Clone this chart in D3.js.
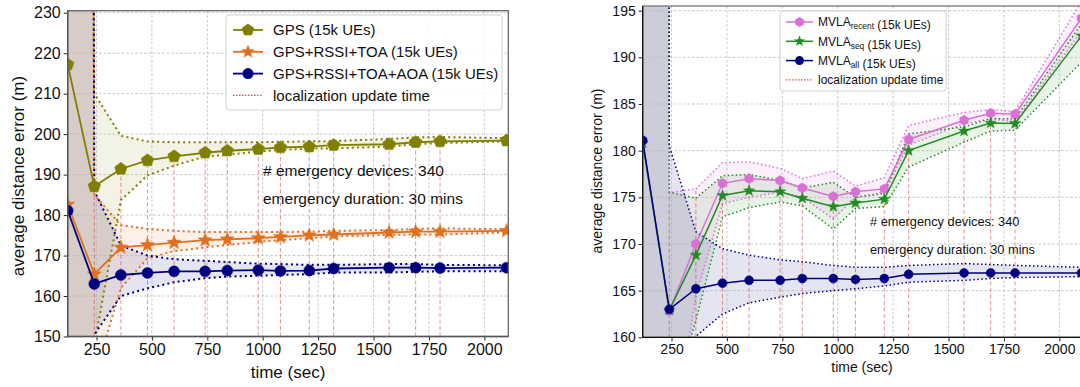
<!DOCTYPE html>
<html><head><meta charset="utf-8">
<script src="https://cdn.jsdelivr.net/npm/d3@7"></script>
<style>
body{margin:0;background:#fff;}
text{font-family:"Liberation Sans",Arial,Helvetica,sans-serif;fill:#111;}
</style>
</head><body>
<svg id="c" width="1080" height="387"></svg>
<script>
// ---------- shared data ----------
const times = [120,240,360,480,600,740,840,980,1080,1210,1320,1570,1690,1800,2100];
const updateTimes = [240,360,480,600,740,840,980,1080,1210,1320,1570,1690,1800];
const xTicks = [250,500,750,1000,1250,1500,1750,2000];

// ---------- left chart data ----------
const leftYTicks = [150,160,170,180,190,200,210,220,230];
const gps      = [217.2,187.1,191.4,193.5,194.5,195.4,195.9,196.3,196.7,196.9,197.3,197.5,198.0,198.2,198.4];
const gpsUp    = [2500,210.0,199.6,198.2,198.0,198.0,198.0,198.0,198.1,198.2,198.3,198.8,199.2,199.3,199.0];
const gpsLo    = [-2000,148.0,183.7,189.8,192.2,194.5,194.9,195.7,196.1,196.4,196.5,196.9,197.5,197.8,198.2];
const rt       = [182.6,165.4,172.0,172.6,173.2,173.8,174.0,174.3,174.6,175.0,175.2,175.7,175.9,175.9,176.1];
const rtUp     = [2200,185.0,177.5,176.6,176.1,175.8,175.8,175.8,175.8,175.9,176.1,176.3,176.6,176.7,176.5];
const rtLo     = [-1800,140.0,162.0,169.3,171.1,172.0,172.6,173.4,173.8,174.3,174.7,175.1,175.2,175.2,175.7];
const rta      = [181.1,163.0,165.2,165.7,166.1,166.1,166.3,166.4,166.2,166.3,166.8,167.0,167.0,166.9,167.0];
const rtaUp    = [2400,186.0,172.5,170.0,169.1,168.7,168.4,168.0,167.9,167.7,167.7,167.9,167.9,167.7,167.6];
const rtaLo    = [-2000,150.5,160.0,161.9,163.4,164.4,164.8,165.0,165.2,165.4,165.8,165.8,166.0,166.1,166.1];
const leftVlineTop = [187.1,191.4,193.5,194.5,195.4,195.9,196.3,196.7,196.9,197.3,197.5,198.0,198.2];

// ---------- right chart data ----------
const rightYTicks = [160,165,170,175,180,185,190,195];
const recent   = [181.0,162.8,170.0,176.5,177.0,176.8,176.0,175.1,175.6,175.9,181.2,183.25,184.0,183.9,194.2];
const recentUp = [2500,175.5,175.9,178.7,178.8,178.1,177.0,177.8,176.2,177.1,182.7,184.1,184.4,184.2,196.0];
const recentLo = [-2000,147.0,164.4,174.3,175.0,175.55,175.0,172.7,175.0,175.55,180.6,182.9,183.4,183.1,192.8];
const seq      = [180.8,162.9,168.8,175.2,175.7,175.6,174.9,174.0,174.4,174.8,180.0,182.1,182.95,182.9,192.3];
const seqUp    = [2500,175.55,174.9,177.3,177.45,176.8,176.0,176.6,175.0,175.4,181.8,182.55,183.45,183.4,193.6];
const seqLo    = [-2000,152.4,161.8,172.9,173.9,174.5,174.1,171.6,173.8,174.0,178.25,180.9,182.1,182.2,189.5];
const all      = [181.1,163.0,165.2,165.8,166.1,166.1,166.3,166.3,166.2,166.3,166.75,166.9,166.9,166.9,166.9];
const allUp    = [2500,180.5,171.3,169.5,168.8,168.3,168.1,167.7,167.5,167.5,167.7,167.9,167.8,167.7,167.5];
const allLo    = [-2000,150.0,160.1,162.5,163.7,164.3,164.7,165.0,165.2,165.5,165.9,166.1,166.3,166.4,166.5];
const rightVlineTop = [175.5,176.0,176.5,177.0,176.8,176.0,175.1,175.6,175.9,181.2,183.25,184.0,183.9];

const svg = d3.select("#c");

function pentagon(r){const p=[];for(let i=0;i<5;i++){const a=-Math.PI/2+i*2*Math.PI/5;p.push([r*Math.cos(a),r*Math.sin(a)]);}return "M"+p.map(d=>d.join(",")).join("L")+"Z";}
function star(r){const p=[];for(let i=0;i<10;i++){const a=-Math.PI/2+i*Math.PI/5;const rr=i%2?r*0.42:r;p.push([rr*Math.cos(a),rr*Math.sin(a)]);}return "M"+p.map(d=>d.join(",")).join("L")+"Z";}
function hexagon(r){const p=[];for(let i=0;i<6;i++){const a=-Math.PI/2+i*Math.PI/3;p.push([r*Math.cos(a),r*Math.sin(a)]);}return "M"+p.map(d=>d.join(",")).join("L")+"Z";}
function circle(r){return d3.symbol().type(d3.symbolCircle).size(Math.PI*r*r)();}

function chart(cfg){
  const g = svg.append("g");
  const x = d3.scaleLinear().domain([120,2108]).range([cfg.x0,cfg.x1]);
  const y = d3.scaleLinear().domain(cfg.yDomain).range([cfg.yb,cfg.yt]);
  const id = "clip"+cfg.name;
  g.append("clipPath").attr("id",id).append("rect")
    .attr("x",cfg.x0).attr("y",cfg.yt).attr("width",cfg.x1-cfg.x0).attr("height",cfg.yb-cfg.yt);
  const pg = g.append("g").attr("clip-path",`url(#${id})`);
  // fills
  cfg.series.forEach(s=>{
    const area = d3.area().x((d,i)=>x(times[i])).y0((d,i)=>y(s.lo[i])).y1((d,i)=>y(s.up[i]));
    pg.append("path").datum(s.vals).attr("d",area).attr("fill",s.color).attr("fill-opacity",0.1);
  });
  // grid
  const grid = pg.append("g");
  xTicks.forEach(t=>grid.append("line").attr("x1",x(t)).attr("x2",x(t)).attr("y1",cfg.yt).attr("y2",cfg.yb));
  cfg.yTicks.forEach(t=>grid.append("line").attr("x1",cfg.x0).attr("x2",cfg.x1).attr("y1",y(t)).attr("y2",y(t)));
  grid.selectAll("line").attr("stroke","#b8b8b8").attr("stroke-width",0.8).attr("stroke-dasharray","2.5,2");
  // band lines
  cfg.series.forEach(s=>{
    const ln = d3.line().x((d,i)=>x(times[i])).y(d=>y(d));
    [s.up,s.lo].forEach(arr=>pg.append("path").datum(arr).attr("d",ln).attr("fill","none")
      .attr("stroke",s.color).attr("stroke-width",cfg.bandW).attr("stroke-dasharray",cfg.bandDash));
  });
  // update time vlines
  updateTimes.forEach((t,k)=>{
    pg.append("line").attr("x1",x(t)).attr("x2",x(t)).attr("y1",cfg.yb).attr("y2",y(cfg.vTop[k]))
      .attr("stroke","#d62728").attr("stroke-opacity",0.5).attr("stroke-width",1).attr("stroke-dasharray","4,2.5");
  });
  // series (first drawn first, last on top)
  cfg.series.forEach(s=>{
    const ln = d3.line().x((d,i)=>x(times[i])).y(d=>y(d));
    pg.append("path").datum(s.vals).attr("d",ln).attr("fill","none").attr("stroke",s.color).attr("stroke-width",cfg.lineW);
    pg.selectAll(null).data(s.vals).enter().append("path")
      .attr("transform",(d,i)=>`translate(${x(times[i])},${y(d)})`)
      .attr("d",s.marker(cfg.ms)).attr("fill",s.color).attr("stroke",s.color).attr("stroke-width",0.5);
  });
  // axes
  const xa = d3.axisBottom(x).tickValues(xTicks).tickFormat(d3.format("d")).tickSize(4).tickPadding(3);
  const ya = d3.axisLeft(y).tickValues(cfg.yTicks).tickFormat(d3.format("d")).tickSize(4).tickPadding(3);
  const gx = g.append("g").attr("transform",`translate(0,${cfg.yb})`).call(xa);
  const gy = g.append("g").attr("transform",`translate(${cfg.x0},0)`).call(ya);
  [gx,gy].forEach(a=>{a.select(".domain").remove();a.selectAll("line").attr("stroke","#222");
    a.selectAll("text").style("font-family","Liberation Sans, Arial, sans-serif").style("font-size",cfg.tickFs+"px").attr("fill","#111");});
  // spines
  g.append("rect").attr("x",cfg.x0).attr("y",cfg.yt).attr("width",cfg.x1-cfg.x0).attr("height",cfg.yb-cfg.yt)
    .attr("fill","none").attr("stroke",cfg.spineTop).attr("stroke-width",1.3);
  g.append("line").attr("x1",cfg.x0).attr("x2",cfg.x0).attr("y1",cfg.yt).attr("y2",cfg.yb).attr("stroke",cfg.spineLeft).attr("stroke-width",1.3);
  g.append("line").attr("x1",cfg.x0).attr("x2",cfg.x1).attr("y1",cfg.yb).attr("y2",cfg.yb).attr("stroke",cfg.spineLeft).attr("stroke-width",1.3);
  // labels
  g.append("text").attr("x",cfg.xlabX).attr("y",cfg.xlabY).attr("text-anchor","middle")
    .style("font-size",cfg.labFs+"px").text("time (sec)");
  g.append("text").attr("transform",`translate(${cfg.ylabX},${cfg.ylabY}) rotate(-90)`).attr("text-anchor","middle")
    .style("font-size",cfg.labFs+"px").text("average distance error (m)");
  // annotations
  cfg.notes.forEach(n=>g.append("text").attr("x",n.x).attr("y",n.y).style("font-size",cfg.noteFs+"px").text(n.t));
  // legend
  const L = cfg.legend;
  g.append("rect").attr("x",L.x).attr("y",L.y).attr("width",L.w).attr("height",L.h).attr("rx",3)
    .attr("fill","#fff").attr("fill-opacity",0.85).attr("stroke","#d0d0d0");
  cfg.series.forEach((s,k)=>{
    const yy = L.y + L.r0 + k*L.dy;
    g.append("line").attr("x1",L.x+L.l0).attr("x2",L.x+L.l1).attr("y1",yy).attr("y2",yy).attr("stroke",s.color).attr("stroke-width",cfg.lineW);
    g.append("path").attr("transform",`translate(${L.x+(L.l0+L.l1)/2},${yy})`).attr("d",s.marker(cfg.ms)).attr("fill",s.color);
    const t = g.append("text").attr("x",L.x+L.tx).attr("y",yy+L.fs*0.35).style("font-size",L.fs+"px");
    s.label.forEach(part=>{
      if(part.sub){t.append("tspan").attr("dy",L.fs*0.25).style("font-size",(L.fs*0.7)+"px").text(part.t);
        t.append("tspan").attr("dy",-L.fs*0.25).text("");}
      else t.append("tspan").text(part.t);
    });
  });
  const yy = L.y + L.r0 + cfg.series.length*L.dy;
  g.append("line").attr("x1",L.x+L.l0).attr("x2",L.x+L.l1).attr("y1",yy).attr("y2",yy).attr("stroke","#e05555")
    .attr("stroke-width",1.2).attr("stroke-dasharray","1.6,1.4");
  g.append("text").attr("x",L.x+L.tx).attr("y",yy+L.fs*0.35).style("font-size",L.fs+"px").text("localization update time");
}

chart({
  name:"L", x0:67.7, x1:508.3, yt:10.7, yb:336.5, yDomain:[150,230.5], yTicks:leftYTicks, vTop:leftVlineTop,
  bandW:2, bandDash:"2,3.2", lineW:1.8, ms:5.5, tickFs:16, labFs:17, noteFs:15.5,
  spineTop:"#666", spineLeft:"#555", xlabX:288, xlabY:378, ylabX:24, ylabY:176,
  series:[
    {vals:gps, up:gpsUp, lo:gpsLo, color:"#808000", marker:r=>pentagon(r*1.2), label:[{t:"GPS (15k UEs)"}]},
    {vals:rt, up:rtUp, lo:rtLo, color:"#e0701f", marker:r=>star(r*1.35), label:[{t:"GPS+RSSI+TOA (15k UEs)"}]},
    {vals:rta, up:rtaUp, lo:rtaLo, color:"#000080", marker:r=>circle(r), label:[{t:"GPS+RSSI+TOA+AOA (15k UEs)"}]}
  ],
  notes:[{x:263,y:176,t:"# emergency devices: 340"},{x:263,y:204,t:"emergency duration: 30 mins"}],
  legend:{x:226,y:15,w:276,h:95,r0:15,dy:21.8,l0:7,l1:37,tx:47,fs:15}
});

chart({
  name:"R", x0:642.7, x1:1083.3, yt:6, yb:337.3, yDomain:[160,195.5], yTicks:rightYTicks, vTop:rightVlineTop,
  bandW:1.5, bandDash:"1.5,2.5", lineW:1.5, ms:4.5, tickFs:14, labFs:14, noteFs:12.8,
  spineTop:"#777", spineLeft:"#111", xlabX:862, xlabY:372, ylabX:602, ylabY:171,
  series:[
    {vals:recent, up:recentUp, lo:recentLo, color:"#da70d6", marker:r=>hexagon(r*1.1), label:[{t:"MVLA"},{t:"recent",sub:true},{t:" (15k UEs)"}]},
    {vals:seq, up:seqUp, lo:seqLo, color:"#228b22", marker:r=>star(r*1.3), label:[{t:"MVLA"},{t:"seq",sub:true},{t:" (15k UEs)"}]},
    {vals:all, up:allUp, lo:allLo, color:"#000080", marker:r=>circle(r), label:[{t:"MVLA"},{t:"all",sub:true},{t:" (15k UEs)"}]}
  ],
  notes:[{x:870,y:226,t:"# emergency devices: 340"},{x:870,y:254,t:"emergency duration: 30 mins"}],
  legend:{x:780,y:11,w:166,h:80,r0:11,dy:19.3,l0:6,l1:33,tx:38,fs:12}
});
</script>
</body></html>
